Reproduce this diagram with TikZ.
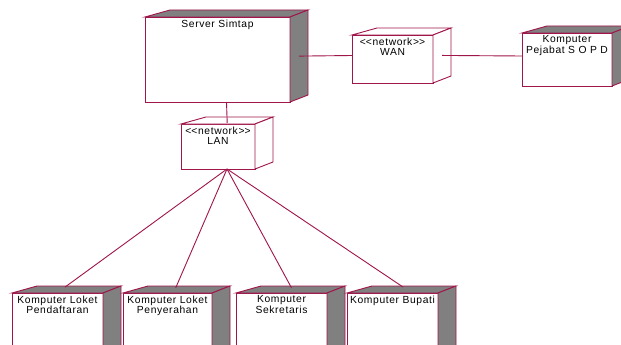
\documentclass[tikz,border=0pt]{standalone}
\usepackage{fontspec}
\setmainfont{Liberation Sans}[LetterSpace=6]
\usetikzlibrary{calc}
\definecolor{rose}{HTML}{A0154A}
\definecolor{sidegray}{HTML}{808080}

\tikzset{
  depframe/.style={inner sep=0, outer sep=0, anchor=north west, draw=none},
  depface/.style={draw=rose, line width=0.9pt, line join=miter},
  deplabel/.style={anchor=north, inner sep=0, align=center, font=\fontsize{10.3}{10.5}\selectfont},
  conn/.style={draw=rose, line width=0.9pt},
}

% stereotype guillemets typed as two separate angle brackets
\newcommand\stereo[1]{<\kern0pt<#1>\kern0pt>}

% deployment node: name, x, y (front face top-left), width, height, side fill, text
\newcommand\depnode[7]{%
  \node[depframe, minimum width={#4+18}, minimum height={#5+7}] (#1) at (#2,{#3-7}) {};
  \draw[depface, fill=white] (#1.south west) rectangle ($(#1.north east)+(-18,7)$);
  \draw[depface, fill=#6] ($(#1.north west)+(0,7)$) -- ($(#1.north west)+(25,0)$)
       -- (#1.north east) -- ($(#1.north east)+(-18,7)$) -- cycle;
  \draw[depface, fill=#6] ($(#1.north east)+(-18,7)$) -- (#1.north east)
       -- ($(#1.south east)+(0,-7)$) -- ($(#1.south east)+(-18,0)$) -- cycle;
  \node[deplabel] (#1-text) at ({#2+#4/2},{#3+2.5}) {#7};
}

\begin{document}
\begin{tikzpicture}[x=1pt, y=-1pt]
  \useasboundingbox (0,0) rectangle (621,345);
  \fill[white] (0,0) rectangle (621,345);
  \clip (0,0) rectangle (621,345);

  \depnode{server}{145}{17}{145}{85}{sidegray}{Server Simtap}
  \depnode{wan}{352}{35}{81}{48}{white}{\stereo{network}\\WAN}
  \depnode{sopd}{522}{33}{90}{53}{sidegray}{Komputer\\Pejabat S O P D}
  \depnode{lan}{181}{124}{74}{45}{white}{\stereo{network}\\LAN}
  \depnode{pend}{12}{293}{91}{70}{sidegray}{Komputer Loket\\Pendaftaran}
  \depnode{peny}{123}{293}{89}{70}{sidegray}{Komputer Loket\\Penyerahan}
  \depnode{sekr}{236}{293}{91}{70}{sidegray}{Komputer\\Sekretaris}
  \depnode{bupati}{347}{293}{91}{70}{sidegray}{Komputer Bupati}

  % links
  \draw[conn, shorten <=-9pt] (server.east) -- (wan.west);
  \draw[conn, shorten <=-9pt] (wan.east) -- (sopd.west);
  \draw[conn, shorten >=-6pt] (server.south) -- (lan.north);
  \foreach \n in {pend, peny, sekr, bupati}
    \draw[conn, shorten >=-2pt] (lan.south) -- (\n.north);
\end{tikzpicture}
\end{document}
